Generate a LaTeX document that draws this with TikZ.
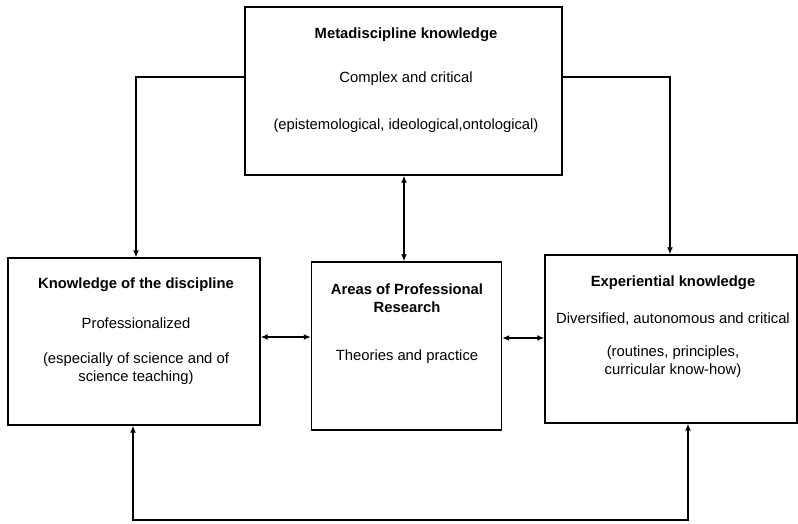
\documentclass[tikz,border=0pt]{standalone}
\usepackage{fontspec}
\setmainfont{Liberation Sans}
\usetikzlibrary{arrows.meta}
\begin{document}
\begin{tikzpicture}[x=1pt,y=-1pt,
  box/.style={draw, line width=1.4pt, rectangle, inner sep=0pt},
  txt/.style={font=\fontsize{14.8}{18}\selectfont, align=center, inner sep=0pt},
  ttl/.style={font=\fontsize{14.8}{18}\selectfont\bfseries, align=center, inner sep=0pt},
  conn/.style={line width=1.3pt},
  arr/.style={-{Latex[length=7pt,width=6pt]}},
  arrboth/.style={{Latex[length=7pt,width=6pt]}-{Latex[length=7pt,width=6pt]}}
]
\useasboundingbox (0,0) rectangle (798,524);
\node[box, minimum width=317pt, minimum height=168pt] (meta) at (403.5,91) {};
\node[box, minimum width=252pt, minimum height=167pt] (kd) at (134,341.5) {};
\node[box, minimum width=190pt, minimum height=168pt] (apr) at (406.5,346) {};
\node[box, minimum width=252pt, minimum height=168pt] (ek) at (671,339) {};

\node[ttl] (t1) at (406,35) {Metadiscipline knowledge};
\node[txt] (t2) at (406,79) {Complex and critical};
\node[txt] (t3) at (406,126) {(epistemological, ideological,ontological)};

\node[ttl] (l1) at (136,285) {Knowledge of the discipline};
\node[txt] (l2) at (136,323) {Professionalized};
\node[txt] (l3) at (136,368.5) {(especially of science and of\\science teaching)};

\node[ttl] (m1) at (407,298) {Areas of Professional\\Research};
\node[txt] (m2) at (407,357) {Theories and practice};

\node[ttl] (r1) at (673,283) {Experiential knowledge};
\node[txt] (r2) at (673,319) {Diversified, autonomous and critical};
\node[txt] (r3) at (673,362) {(routines, principles,\\curricular know-how)};

\draw[conn, arr] (meta.west |- {(0,77)}) -| (kd.north -| {(136,0)});
\draw[conn, arr] (meta.east |- {(0,77)}) -| (ek.north -| {(670,0)});
\draw[conn, arrboth] (meta.south -| {(404,0)}) -- (apr.north -| {(404,0)});
\draw[conn, arrboth] (kd.east |- {(0,337)}) -- (apr.west |- {(0,337)});
\draw[conn, arrboth] (apr.east |- {(0,338)}) -- (ek.west |- {(0,338)});
\draw[conn, arrboth] (kd.south -| {(133,0)}) -- (133,520) -- (688,520) -- (ek.south -| {(688,0)});
\end{tikzpicture}
\end{document}
